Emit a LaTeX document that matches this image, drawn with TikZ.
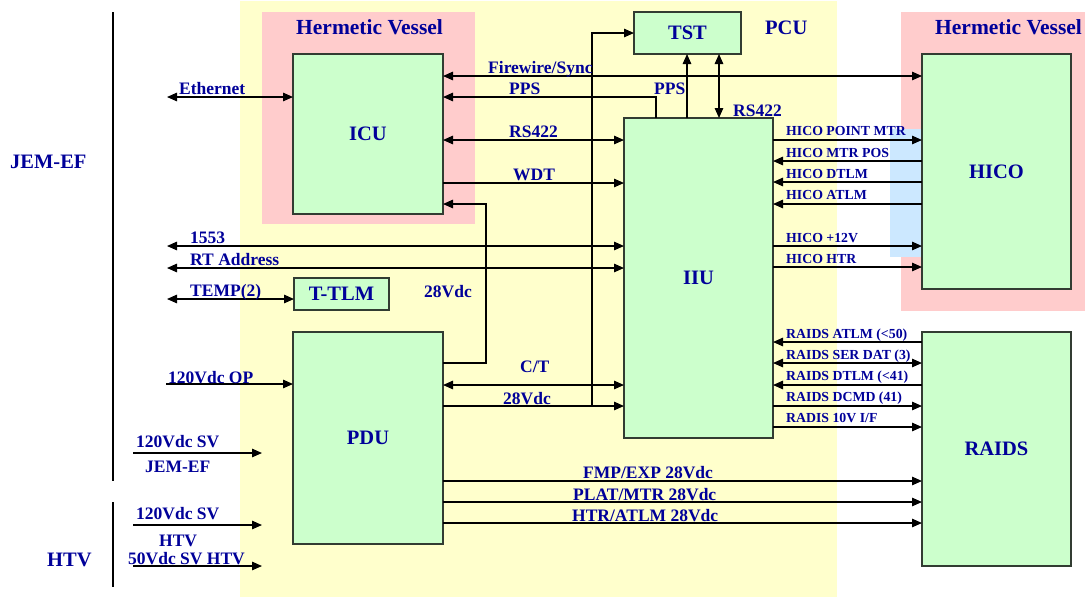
\documentclass[tikz,border=0pt]{standalone}
\usepackage{fontspec}
\setmainfont{Liberation Serif}
\usetikzlibrary{arrows.meta}
\definecolor{pcuyellow}{RGB}{255,255,204}
\definecolor{hvpink}{RGB}{255,204,204}
\definecolor{boxgreen}{RGB}{204,255,204}
\definecolor{hicoblue}{RGB}{204,232,255}
\definecolor{navy}{RGB}{0,0,153}
\definecolor{boxline}{RGB}{50,60,50}
\tikzset{
  blk/.style={draw=boxline, line width=1.5pt, fill=boxgreen, inner sep=0pt, outer sep=0pt,
    font=\fontsize{20.5}{22}\selectfont\bfseries, text=navy},
  conn/.style={line width=1.3pt, draw=black, >={Triangle[length=10pt,width=8.5pt]}},
  lbl/.style={anchor=base west, inner sep=0pt, text=navy, font=\fontsize{17.5}{19}\selectfont\bfseries},
  slbl/.style={anchor=base west, inner sep=0pt, text=navy, font=\fontsize{13.8}{15}\selectfont\bfseries},
  blbl/.style={anchor=base west, inner sep=0pt, text=navy, font=\fontsize{20.5}{22}\selectfont\bfseries},
  hvlbl/.style={anchor=base west, inner sep=0pt, text=navy, font=\fontsize{21.5}{23}\selectfont\bfseries},
}
\begin{document}
\begin{tikzpicture}[x=1pt,y=-1pt]
\useasboundingbox (0,0) rectangle (1085,598);
% regions
\fill[pcuyellow] (240,1) rectangle (837,597);
\fill[hvpink] (262,12) rectangle (475,224);
\fill[hvpink] (901,12) rectangle (1085,311);
\fill[hicoblue] (890,129) rectangle (922,257);
% separators
\draw[line width=1.3pt] (113,12) -- (113,481);
\draw[line width=1.3pt] (113,502) -- (113,587);
% boxes
\node[blk, minimum width=150pt, minimum height=160pt] (ICU) at (368,134) {ICU};
\node[blk, minimum width=107pt, minimum height=42pt] (TST) at (687.5,33) {TST};
\node[blk, minimum width=149pt, minimum height=320pt] (IIU) at (698.5,278) {IIU};
\node[blk, minimum width=149pt, minimum height=235pt] (HICO) at (996.5,171.5) {HICO};
\node[blk, minimum width=95pt, minimum height=32pt] (TTLM) at (341.5,294) {T-TLM};
\node[blk, minimum width=150pt, minimum height=212pt] (PDU) at (368,438) {PDU};
\node[blk, minimum width=149pt, minimum height=234pt] (RAIDS) at (996.5,449) {RAIDS};
% region labels
\node[hvlbl] (hvl) at (296,34) {Hermetic Vessel};
\node[hvlbl] (hvr) at (935,34) {Hermetic Vessel};
\node[blbl] (pcu) at (765,34) {PCU};
\node[blbl] (jem) at (10,168) {JEM-EF};
\node[blbl] (htv) at (47,566) {HTV};
% free ends
\coordinate (ethL) at (167,97);
\coordinate (l1553) at (167,246);
\coordinate (lrt) at (167,268);
\coordinate (ltemp) at (167,299);
\coordinate (lop) at (166,384);
\coordinate (sv1a) at (133,453); \coordinate (sv1b) at (262,453);
\coordinate (sv2a) at (133,525); \coordinate (sv2b) at (262,525);
\coordinate (sv3a) at (133,566); \coordinate (sv3b) at (262,566);
\coordinate (branch) at (592,406);
% connectors
\draw[conn,<->] (ethL) -- (ICU.west |- ethL);
\draw[conn,<->] (ICU.east |- 0,76) -- (HICO.west |- 0,76);
\draw[conn,->] (IIU.north -| 656,0) |- (ICU.east |- 0,97);
\draw[conn,->] (IIU.north -| 687,0) -- (TST.south -| 687,0);
\draw[conn,<->] (IIU.north -| 719,0) -- (TST.south -| 719,0);
\draw[conn,<->] (ICU.east |- 0,140) -- (IIU.west |- 0,140);
\draw[conn,->] (ICU.east |- 0,183) -- (IIU.west |- 0,183);
\draw[conn,->] (PDU.east |- 0,363) -| (486,204) -- (ICU.east |- 0,204);
\draw[conn,<->] (l1553) -- (IIU.west |- l1553);
\draw[conn,<->] (lrt) -- (IIU.west |- lrt);
\draw[conn,<->] (ltemp) -- (TTLM.west |- ltemp);
\draw[conn,->] (lop) -- (PDU.west |- lop);
\draw[conn,<->] (PDU.east |- 0,385) -- (IIU.west |- 0,385);
\draw[conn,->] (PDU.east |- branch) -- (IIU.west |- branch);
\draw[conn,->] (branch) |- (TST.west |- 0,33);
\draw[conn,->] (sv1a) -- (sv1b);
\draw[conn,->] (sv2a) -- (sv2b);
\draw[conn,->] (sv3a) -- (sv3b);
\draw[conn,->] (PDU.east |- 0,481) -- (RAIDS.west |- 0,481);
\draw[conn,->] (PDU.east |- 0,502) -- (RAIDS.west |- 0,502);
\draw[conn,->] (PDU.east |- 0,523) -- (RAIDS.west |- 0,523);
% HICO
\draw[conn,->] (IIU.east |- 0,140) -- (HICO.west |- 0,140);
\draw[conn,<-] (IIU.east |- 0,161) -- (HICO.west |- 0,161);
\draw[conn,<-] (IIU.east |- 0,182) -- (HICO.west |- 0,182);
\draw[conn,<-] (IIU.east |- 0,204) -- (HICO.west |- 0,204);
\draw[conn,->] (IIU.east |- 0,246) -- (HICO.west |- 0,246);
\draw[conn,->] (IIU.east |- 0,267) -- (HICO.west |- 0,267);
% RAIDS
\draw[conn,<-] (IIU.east |- 0,342) -- (RAIDS.west |- 0,342);
\draw[conn,<->] (IIU.east |- 0,363) -- (RAIDS.west |- 0,363);
\draw[conn,<-] (IIU.east |- 0,385) -- (RAIDS.west |- 0,385);
\draw[conn,->] (IIU.east |- 0,406) -- (RAIDS.west |- 0,406);
\draw[conn,->] (IIU.east |- 0,427) -- (RAIDS.west |- 0,427);
% labels
\node[lbl] at (179,94) {Ethernet};
\node[lbl] at (488,73.5) {Firewire/Sync};
\node[lbl] at (509,94.5) {PPS};
\node[lbl] at (654,94.5) {PPS};
\node[lbl] at (733,116) {RS422};
\node[lbl] at (509,137.5) {RS422};
\node[lbl] at (513,180) {WDT};
\node[lbl] at (190,243) {1553};
\node[lbl] at (190,265.5) {RT Address};
\node[lbl] at (190,296) {TEMP(2)};
\node[lbl] at (424,297) {28Vdc};
\node[lbl] at (168,383) {120Vdc OP};
\node[lbl] at (520,372) {C/T};
\node[lbl] at (503,404) {28Vdc};
\node[lbl] at (136,447) {120Vdc SV};
\node[lbl] at (145,472) {JEM-EF};
\node[lbl] at (136,519) {120Vdc SV};
\node[lbl] at (159,546) {HTV};
\node[lbl] at (128,564) {50Vdc SV HTV};
\node[lbl] at (583,478) {FMP/EXP 28Vdc};
\node[lbl] at (573,500) {PLAT/MTR 28Vdc};
\node[lbl] at (572,521) {HTR/ATLM 28Vdc};
\node[slbl] at (786,135.5) {HICO POINT MTR};
\node[slbl] at (786,157) {HICO MTR POS};
\node[slbl] at (786,178) {HICO DTLM};
\node[slbl] at (786,199.5) {HICO ATLM};
\node[slbl] at (786,242) {HICO +12V};
\node[slbl] at (786,263) {HICO HTR};
\node[slbl] at (786,338) {RAIDS ATLM (<50)};
\node[slbl] at (786,359) {RAIDS SER DAT (3)};
\node[slbl] at (786,380) {RAIDS DTLM (<41)};
\node[slbl] at (786,401.5) {RAIDS DCMD (41)};
\node[slbl] at (786,422.5) {RADIS 10V I/F};
\end{tikzpicture}
\end{document}
